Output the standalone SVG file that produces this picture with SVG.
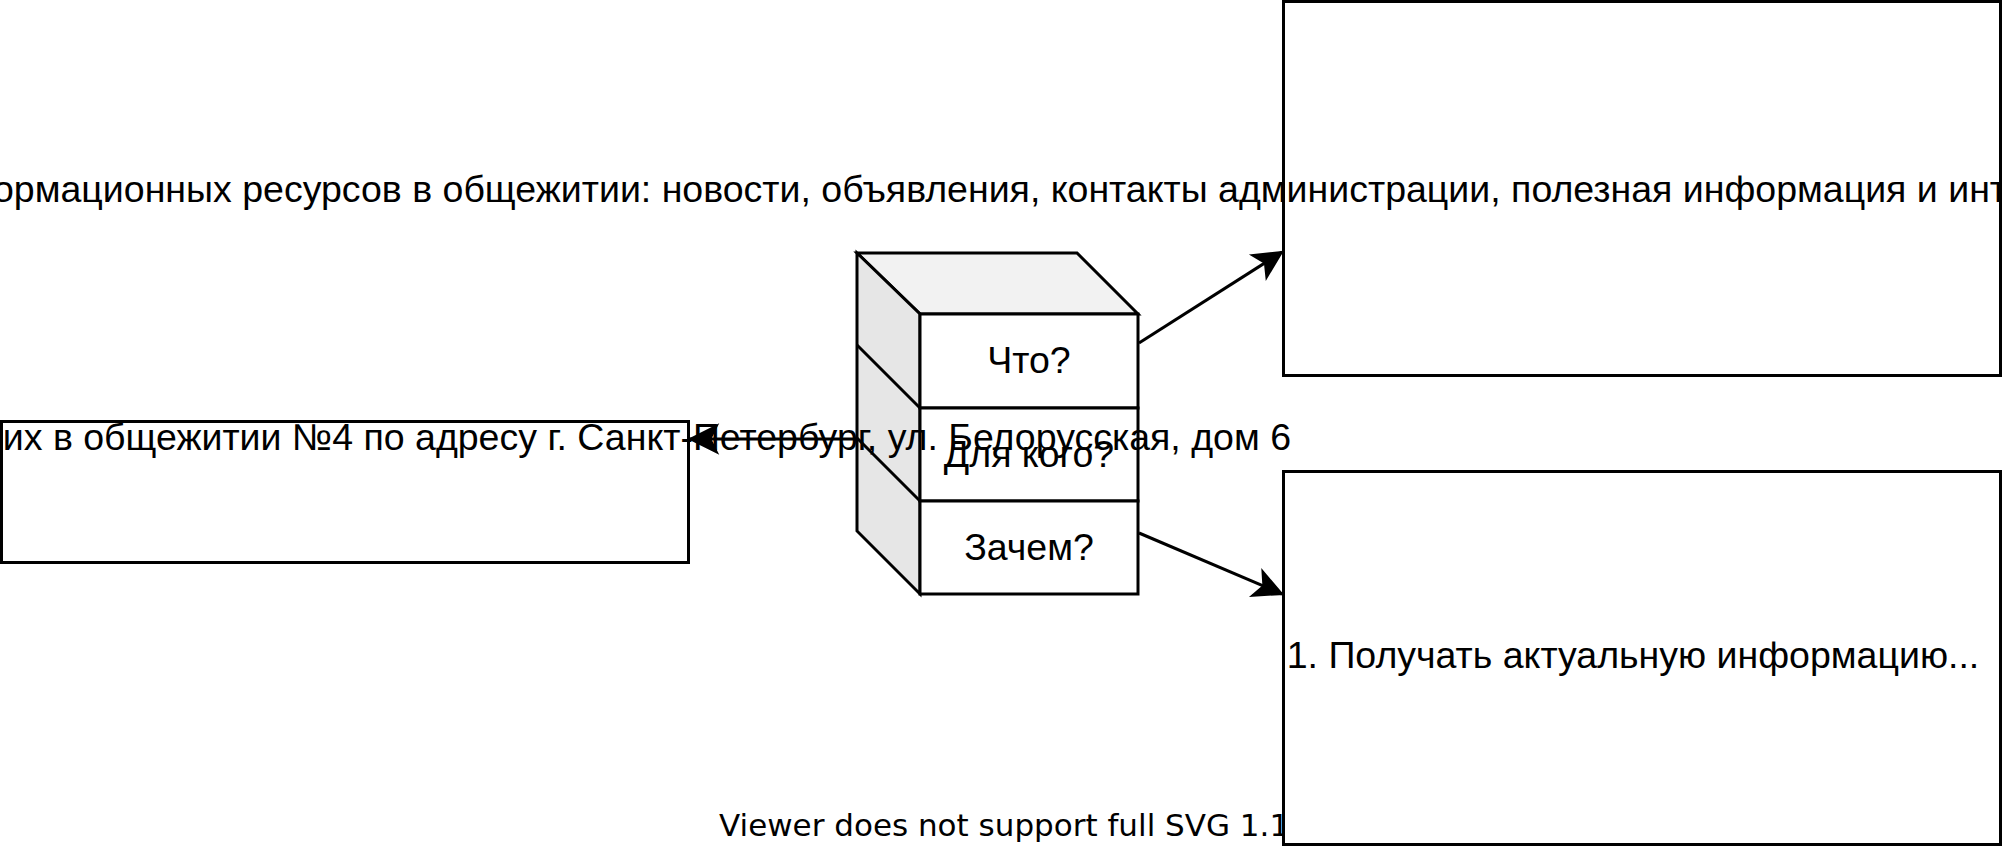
<svg xmlns="http://www.w3.org/2000/svg" width="2006" height="850" viewBox="0 0 2006 850">
<style>
.box{fill:#ffffff;stroke:#000000;stroke-width:3}
.lbl{font-family:"Liberation Sans",Arial,Helvetica,sans-serif;font-size:37.5px;fill:#000000}
.edge{fill:none;stroke:#000000;stroke-width:3}
</style>
<defs>
<marker id="arr" markerUnits="userSpaceOnUse" viewBox="-30 -16 32 32" refX="0" refY="0" markerWidth="32" markerHeight="32" orient="auto" overflow="visible">
<path d="M0,0 L-27,-13.5 L-20.25,0 L-27,13.5 Z" fill="#000000" stroke="#000000" stroke-width="2"/>
</marker>
<clipPath id="pageclip"><rect x="0" y="0" width="2002" height="850"/></clipPath>
</defs>
<rect x="0" y="0" width="2006" height="850" fill="#ffffff"/>
<text x="719" y="836" font-family="'DejaVu Sans',sans-serif" font-size="31" fill="#000000">Viewer does not support full SVG 1.1</text>
<g id="node-what-box">
<rect class="box" x="1283.5" y="1.5" width="717" height="374"/>
</g>
<g id="node-why-box">
<rect class="box" x="1283.5" y="471.5" width="717" height="373"/>
<text class="lbl" x="1633" y="668" text-anchor="middle">1. Получать актуальную информацию...</text>
</g>
<g id="node-cube">
<polygon points="857,253 1077,253 1138,314 920,314" fill="#f2f2f2" stroke="#000000" stroke-width="3" stroke-linejoin="miter"/>
<polygon points="857,253 920,314 920,594 857,531" fill="#e6e6e6" stroke="#000000" stroke-width="3"/>
<line x1="857" y1="345" x2="920" y2="408" stroke="#000000" stroke-width="3"/>
<line x1="857" y1="438" x2="920" y2="501" stroke="#000000" stroke-width="3"/>
<rect class="box" x="920" y="314" width="218" height="94"/>
<rect class="box" x="920" y="408" width="218" height="93"/>
<rect class="box" x="920" y="501" width="218" height="93"/>
<text class="lbl" x="1029" y="373" text-anchor="middle">Что?</text>
<text class="lbl" x="1029" y="467" text-anchor="middle">Для кого?</text>
<text class="lbl" x="1029" y="560" text-anchor="middle">Зачем?</text>
</g>
<g id="node-who-box">
<rect class="box" x="1.5" y="421.5" width="687" height="141"/>
</g>
<g id="connectors">
<line class="edge" x1="1139" y1="343" x2="1282" y2="252" marker-end="url(#arr)"/>
<line class="edge" x1="1139" y1="533" x2="1282" y2="594" marker-end="url(#arr)"/>
<line class="edge" x1="857" y1="439" x2="690" y2="439" marker-end="url(#arr)"/>
</g>
<g id="labels" clip-path="url(#pageclip)">
<text class="lbl" x="1291" y="450" text-anchor="end">щих в общежитии №4 по адресу г. Санкт-Петербург, ул. Белорусская, дом 6</text>
<text class="lbl" x="-7" y="202">ормационных ресурсов в общежитии: новости, объявления, контакты администрации, полезная информация и инт</text>
</g>
</svg>
